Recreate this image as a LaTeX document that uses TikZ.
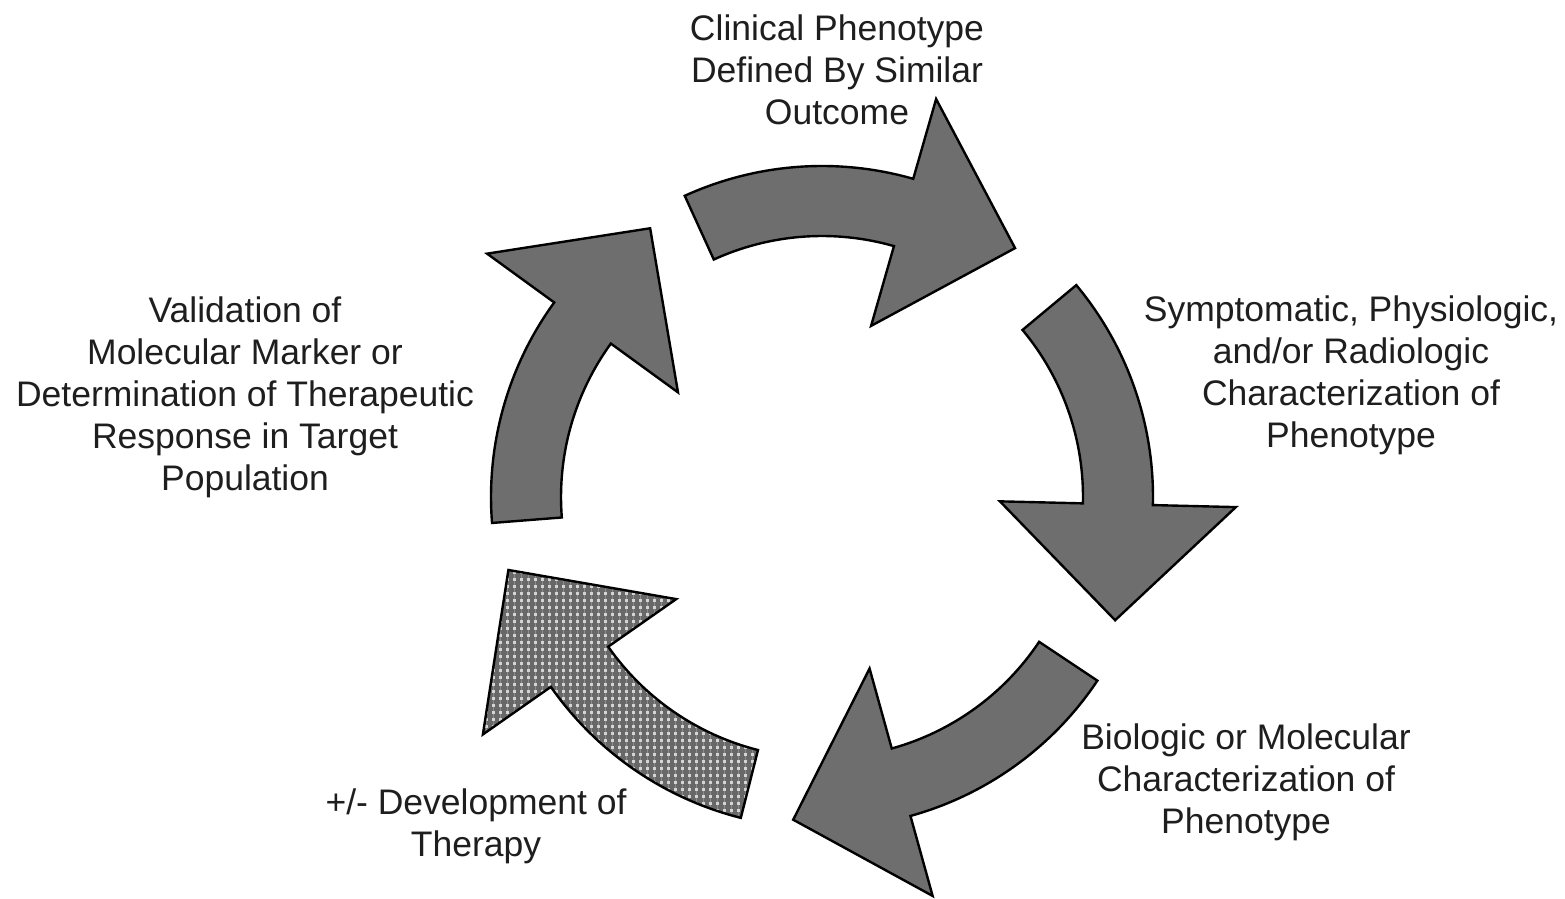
\documentclass[tikz,border=0pt]{standalone}
\usepackage{fontspec}
\setmainfont{Liberation Sans}
\usetikzlibrary{calc,patterns.meta}
\definecolor{arrowgray}{HTML}{6E6E6E}
\definecolor{hatchgray}{HTML}{686868}
\definecolor{hatchlight}{HTML}{D4D4D4}
\definecolor{textgray}{HTML}{1E1E1E}
\newcommand\cyclepath[4]{($(c)+(#1:331)$) arc[start angle=#1, end angle=#2, radius=331pt] -- ($(c)+(#2:414)$) -- ($(c)+(#3:#4)$) -- ($(c)+(#2:178)$) -- ($(c)+(#2:261)$) arc[start angle=#2, end angle=#1, radius=261pt] -- cycle}
\tikzset{
  cyclearrow/.style={draw=black, line width=2.4pt, line join=miter, fill=arrowgray},
  outline/.style={draw=black, line width=2.4pt, line join=miter},
  label/.style={inner sep=0pt, align=center, text=textgray, font=\fontsize{35.5}{42}\selectfont}
}
\begin{document}
\begin{tikzpicture}[x=1pt,y=1pt]
\useasboundingbox (0,0) rectangle (1565,898);
\coordinate (c) at (822,401);
% solid arrows
\path[cyclearrow] \cyclepath{114.5}{74}{52.2}{315};
\path[cyclearrow] \cyclepath{39.8}{-1.4}{-22.8}{318};
\path[cyclearrow] \cyclepath{-33.7}{-74.5}{-95.1}{324};
\path[cyclearrow] \cyclepath{184.5}{144}{122.6}{319};
% hatched arrow
\fill[hatchlight] \cyclepath{-104.2}{-145}{-166.9}{322};
\path[pattern={Lines[distance=7pt,angle=0,line width=3.8pt]}, pattern color=hatchgray] \cyclepath{-104.2}{-145}{-166.9}{322};
\path[pattern={Lines[distance=7pt,angle=90,line width=3.8pt]}, pattern color=hatchgray] \cyclepath{-104.2}{-145}{-166.9}{322};
\path[outline] \cyclepath{-104.2}{-145}{-166.9}{322};
% labels
\node[label] (clin) at (837,828) {Clinical Phenotype\\Defined By Similar\\Outcome};
\node[label] (symp) at (1351,523) {Symptomatic, Physiologic,\\and/or Radiologic\\Characterization of\\Phenotype};
\node[label] (bio) at (1246,116) {Biologic or Molecular\\Characterization of\\Phenotype};
\node[label] (dev) at (476,72) {+/- Development of\\Therapy};
\node[label] (val) at (245,501) {Validation of\\Molecular Marker or\\Determination of Therapeutic\\Response in Target\\Population};
\end{tikzpicture}
\end{document}
